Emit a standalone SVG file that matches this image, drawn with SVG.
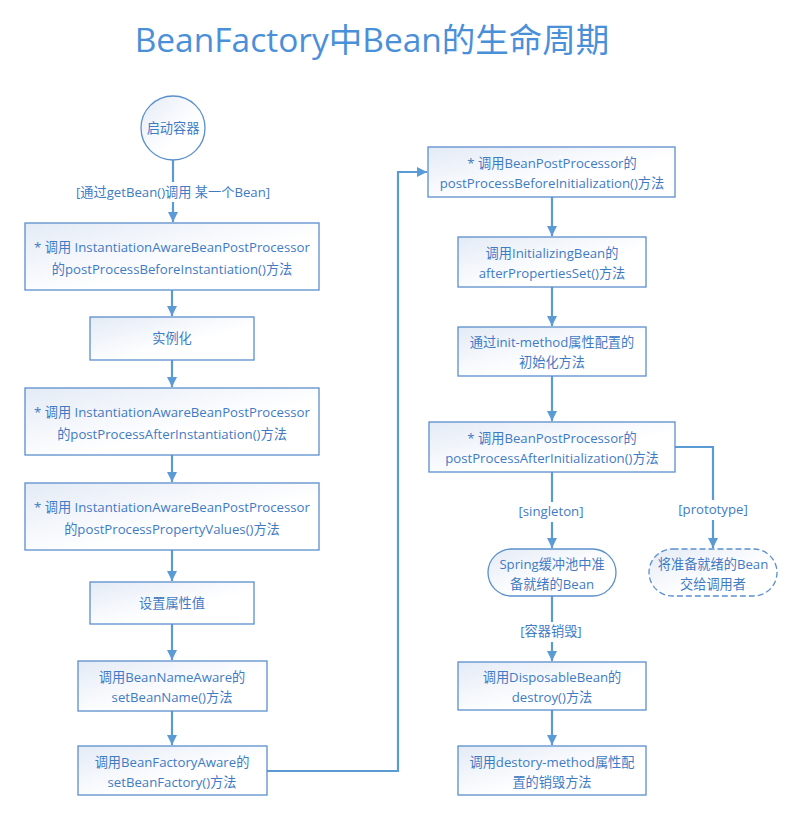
<svg xmlns="http://www.w3.org/2000/svg" width="799" height="838" viewBox="0 0 799 838">
<defs>
<linearGradient id="g" x1="0" y1="0" x2="1" y2="1">
<stop offset="0" stop-color="#e4ebf6"/>
<stop offset="0.6" stop-color="#ffffff"/>
</linearGradient>
<marker id="ah" viewBox="0 0 10 10" refX="10" refY="5" markerWidth="10" markerHeight="10" markerUnits="userSpaceOnUse" orient="auto">
<path d="M0,0 L10,5 L0,10 Z" fill="#5b9bd5"/>
</marker>
</defs>
<style>
.n{fill:url(#g);stroke:#5b8fcc;stroke-width:1.3}
.t{font-family:"Open Sans","Noto Sans CJK SC",sans-serif;font-size:13.2px;fill:#3f7bc4;text-anchor:middle}
.c{fill:none;stroke:#5b9bd5;stroke-width:2.2}
.lb{fill:#ffffff}
</style>
<rect width="799" height="838" fill="#ffffff"/>
<text x="372" y="52" style="font-family:'Open Sans','Noto Sans CJK SC',sans-serif;font-size:33.5px;fill:#4a90d9;text-anchor:middle">BeanFactory中Bean的生命周期</text>

<g id="connectors">
<path class="c" d="M173,160 V222" marker-end="url(#ah)"/>
<path class="c" d="M172,290 V316" marker-end="url(#ah)"/>
<path class="c" d="M172,360 V387" marker-end="url(#ah)"/>
<path class="c" d="M172,455 V482" marker-end="url(#ah)"/>
<path class="c" d="M172,550 V581" marker-end="url(#ah)"/>
<path class="c" d="M172,624 V660" marker-end="url(#ah)"/>
<path class="c" d="M172,711 V745" marker-end="url(#ah)"/>
<path class="c" d="M267,771 H398 V172 H427" marker-end="url(#ah)"/>
<path class="c" d="M552,197 V236" marker-end="url(#ah)"/>
<path class="c" d="M552,287 V326" marker-end="url(#ah)"/>
<path class="c" d="M552,376 V421" marker-end="url(#ah)"/>
<path class="c" d="M552,472 V548" marker-end="url(#ah)"/>
<path class="c" d="M675,447 H713 V548" marker-end="url(#ah)"/>
<path class="c" d="M552,596 V661" marker-end="url(#ah)"/>
<path class="c" d="M552,710 V745" marker-end="url(#ah)"/>
<rect class="lb" x="66" y="182" width="214" height="20"/>
<text class="t" x="173" y="197">[通过getBean()调用 某一个Bean]</text>
<rect class="lb" x="513" y="502" width="78" height="20"/>
<text class="t" x="551" y="516">[singleton]</text>
<rect class="lb" x="674" y="500" width="78" height="20"/>
<text class="t" x="713" y="514">[prototype]</text>
<rect class="lb" x="513" y="622" width="78" height="20"/>
<text class="t" x="551" y="636">[容器销毁]</text>
</g>

<g id="start">
<circle class="n" cx="173" cy="128" r="32"/>
<text class="t" x="173" y="133">启动容器</text>
</g>
<g id="n1">
<rect class="n" x="25" y="223" width="294" height="67"/>
<text class="t" x="172" y="252">* 调用 InstantiationAwareBeanPostProcessor</text>
<text class="t" x="172" y="274">的postProcessBeforeInstantiation()方法</text>
</g>
<g id="n2">
<rect class="n" x="90" y="317" width="164" height="43"/>
<text class="t" x="172" y="343">实例化</text>
</g>
<g id="n3">
<rect class="n" x="25" y="388" width="294" height="67"/>
<text class="t" x="172" y="417">* 调用 InstantiationAwareBeanPostProcessor</text>
<text class="t" x="172" y="439">的postProcessAfterInstantiation()方法</text>
</g>
<g id="n4">
<rect class="n" x="25" y="483" width="294" height="67"/>
<text class="t" x="172" y="512">* 调用 InstantiationAwareBeanPostProcessor</text>
<text class="t" x="172" y="534">的postProcessPropertyValues()方法</text>
</g>
<g id="n5">
<rect class="n" x="90" y="582" width="164" height="42"/>
<text class="t" x="172" y="608">设置属性值</text>
</g>
<g id="n6">
<rect class="n" x="78" y="661" width="189" height="50"/>
<text class="t" x="172" y="682">调用BeanNameAware的</text>
<text class="t" x="172" y="702">setBeanName()方法</text>
</g>
<g id="n7">
<rect class="n" x="78" y="746" width="189" height="49"/>
<text class="t" x="172" y="767">调用BeanFactoryAware的</text>
<text class="t" x="172" y="787">setBeanFactory()方法</text>
</g>
<g id="n8">
<rect class="n" x="428" y="147" width="247" height="50"/>
<text class="t" x="552" y="168">* 调用BeanPostProcessor的</text>
<text class="t" x="552" y="188">postProcessBeforeInitialization()方法</text>
</g>
<g id="n9">
<rect class="n" x="458" y="237" width="188" height="50"/>
<text class="t" x="552" y="258">调用InitializingBean的</text>
<text class="t" x="552" y="278">afterPropertiesSet()方法</text>
</g>
<g id="n10">
<rect class="n" x="458" y="327" width="188" height="49"/>
<text class="t" x="552" y="347">通过init-method属性配置的</text>
<text class="t" x="552" y="367">初始化方法</text>
</g>
<g id="n11">
<rect class="n" x="429" y="422" width="246" height="50"/>
<text class="t" x="552" y="443">* 调用BeanPostProcessor的</text>
<text class="t" x="552" y="463">postProcessAfterInitialization()方法</text>
</g>
<g id="n12">
<rect class="n" x="488" y="549" width="128" height="47" rx="23.5"/>
<text class="t" x="552" y="569">Spring缓冲池中准</text>
<text class="t" x="552" y="589">备就绪的Bean</text>
</g>
<g id="n13">
<rect class="n" x="649" y="549" width="128" height="47" rx="23.5" style="stroke-dasharray:6,3"/>
<text class="t" x="713" y="569">将准备就绪的Bean</text>
<text class="t" x="713" y="589">交给调用者</text>
</g>
<g id="n14">
<rect class="n" x="458" y="662" width="188" height="48"/>
<text class="t" x="552" y="682">调用DisposableBean的</text>
<text class="t" x="552" y="702">destroy()方法</text>
</g>
<g id="n15">
<rect class="n" x="458" y="746" width="188" height="49"/>
<text class="t" x="552" y="767">调用destory-method属性配</text>
<text class="t" x="552" y="787">置的销毁方法</text>
</g>
</svg>
